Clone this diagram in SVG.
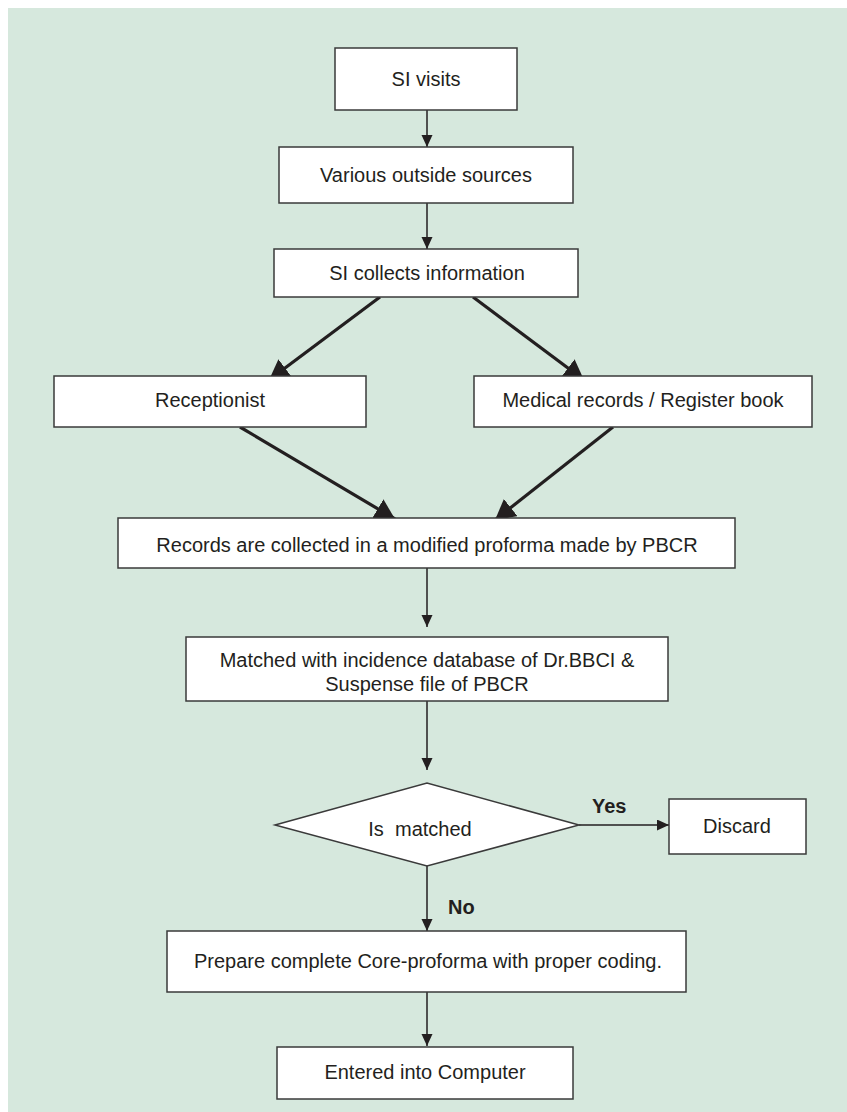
<svg xmlns="http://www.w3.org/2000/svg" width="847" height="1112" viewBox="0 0 847 1112">
<defs>
<style>
.bg{fill:#d6e8dd}
.box{fill:#ffffff;stroke:#3a3a3a;stroke-width:1.5}
.t{font-family:"Liberation Sans",Arial,sans-serif;font-size:20px;fill:#231f20;text-anchor:middle}
.b{font-weight:bold;text-anchor:start}
.thin{stroke:#231f20;stroke-width:1.5;fill:none}
.thick{stroke:#231f20;stroke-width:3.2;fill:none}
</style>
<marker id="sm" markerUnits="userSpaceOnUse" markerWidth="14" markerHeight="12" refX="12" refY="5.5" orient="auto">
<path d="M0,0 L12,5.5 L0,11 Z" fill="#231f20"/>
</marker>
<marker id="lg" markerUnits="userSpaceOnUse" markerWidth="22" markerHeight="24" refX="20" refY="11" orient="auto">
<path d="M0,0 L20,11 L0,22 Z" fill="#231f20"/>
</marker>
</defs>
<rect class="bg" x="8" y="8" width="839" height="1104"/>
<g id="connectors">
<line class="thin" x1="427" y1="110" x2="427" y2="147" marker-end="url(#sm)"/>
<line class="thin" x1="427" y1="203" x2="427" y2="249" marker-end="url(#sm)"/>
<line class="thick" x1="380" y1="297" x2="269" y2="380" marker-end="url(#lg)"/>
<line class="thick" x1="473" y1="297" x2="584" y2="380" marker-end="url(#lg)"/>
<line class="thick" x1="240" y1="427" x2="395" y2="519" marker-end="url(#lg)"/>
<line class="thick" x1="613" y1="427" x2="495" y2="520" marker-end="url(#lg)"/>
<line class="thin" x1="427" y1="568" x2="427" y2="627" marker-end="url(#sm)"/>
<line class="thin" x1="427" y1="701" x2="427" y2="770" marker-end="url(#sm)"/>
<line class="thin" x1="579" y1="825" x2="669" y2="825" marker-end="url(#sm)"/>
<line class="thin" x1="427" y1="866" x2="427" y2="931" marker-end="url(#sm)"/>
<line class="thin" x1="427" y1="992" x2="427" y2="1046" marker-end="url(#sm)"/>
<text class="t b" x="592" y="813">Yes</text>
<text class="t b" x="448" y="914">No</text>
</g>
<g id="n-si-visits">
<rect class="box" x="335" y="48" width="182" height="62"/>
<text class="t" x="426" y="86">SI visits</text>
</g>
<g id="n-various">
<rect class="box" x="279" y="147" width="294" height="56"/>
<text class="t" x="426" y="182">Various outside sources</text>
</g>
<g id="n-collects">
<rect class="box" x="274" y="249" width="304" height="48"/>
<text class="t" x="427" y="280">SI collects information</text>
</g>
<g id="n-receptionist">
<rect class="box" x="54" y="376" width="312" height="51"/>
<text class="t" x="210" y="407">Receptionist</text>
</g>
<g id="n-medical">
<rect class="box" x="474" y="376" width="338" height="51"/>
<text class="t" x="643" y="407">Medical records / Register book</text>
</g>
<g id="n-records">
<rect class="box" x="118" y="518" width="617" height="50"/>
<text class="t" x="427" y="552">Records are collected in a modified proforma made by PBCR</text>
</g>
<g id="n-matched">
<rect class="box" x="186" y="637" width="482" height="64"/>
<text class="t" x="427" y="667">Matched with incidence database of Dr.BBCI &amp;</text>
<text class="t" x="427" y="691">Suspense file of PBCR</text>
</g>
<g id="n-decision">
<polygon class="box" points="275,825 427,783 579,825 427,866"/>
<text class="t" x="420" y="836" style="white-space:pre">Is  matched</text>
</g>
<g id="n-discard">
<rect class="box" x="669" y="799" width="137" height="55"/>
<text class="t" x="737" y="833">Discard</text>
</g>
<g id="n-prepare">
<rect class="box" x="167" y="931" width="519" height="61"/>
<text class="t" x="428" y="968">Prepare complete Core-proforma with proper coding.</text>
</g>
<g id="n-entered">
<rect class="box" x="277" y="1047" width="296" height="52"/>
<text class="t" x="425" y="1079">Entered into Computer</text>
</g>
</svg>
